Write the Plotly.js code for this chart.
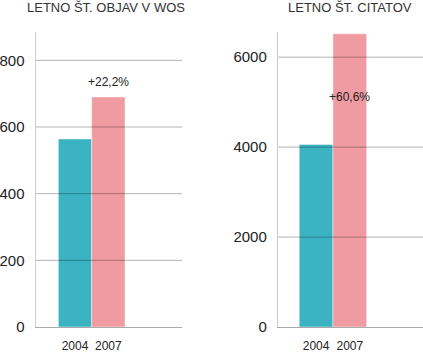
<!DOCTYPE html>
<html>
<head>
<meta charset="utf-8">
<script src="https://cdn.plot.ly/plotly-3.0.1.min.js"></script>
<style>html,body{margin:0;padding:0;background:#fff;}#chart{width:423px;height:353px;}</style>
</head>
<body>
<div id="chart"></div>
<script>
// ---- data ----
var years = ["2004", "2007"];
var objave = [564, 690];
var citati = [4060, 6520];
var titles = ["LETNO ŠT. OBJAV V WOS", "LETNO ŠT. CITATOV"];
var changes = ["+22,2%", "+60,6%"];
var ticksLeft = [0, 200, 400, 600, 800];
var ticksRight = [0, 2000, 4000, 6000];

var colors = ["#3bb3c3", "#f09ba1"];
var font = "Liberation Sans, Arial, sans-serif";
var xpos = years.map(function (d, i) { return i; });

var traces = [
  {type: "bar", x: xpos, y: objave, xaxis: "x", yaxis: "y", width: 1,
   marker: {color: colors, line: {color: "rgba(255,255,255,0.45)", width: 1}},
   hoverinfo: "none", showlegend: false},
  {type: "bar", x: xpos, y: citati, xaxis: "x2", yaxis: "y2", width: 1,
   marker: {color: colors, line: {color: "rgba(255,255,255,0.45)", width: 1}},
   hoverinfo: "none", showlegend: false}
];

function xax(domain, range, anchor) {
  return {domain: domain, range: range, anchor: anchor, type: "linear",
    tickvals: xpos, ticktext: years, showgrid: false, zeroline: false,
    showline: true, linecolor: "#aaaaaa", linewidth: 1,
    ticks: "outside", ticklen: 8, tickcolor: "rgba(0,0,0,0)",
    tickfont: {family: font, size: 12, color: "#222"}, fixedrange: true};
}
function yax(range, tv, anchor) {
  return {range: range, anchor: anchor, domain: [0, 1], tickvals: tv,
    ticktext: tv.map(String), showgrid: false, zeroline: false,
    showline: true, linecolor: "#cccccc", linewidth: 1.5,
    ticks: "outside", ticklen: 7, tickcolor: "rgba(0,0,0,0)",
    tickfont: {family: font, size: 15, color: "#222"}, fixedrange: true};
}

var shapes = [];
ticksLeft.slice(1).forEach(function (v) {
  shapes.push({type: "line", layer: "above", xref: "x domain", yref: "y",
    x0: 0, x1: 1, y0: v, y1: v, line: {color: "rgba(0,0,0,0.3)", width: 1}});
});
ticksRight.slice(1).forEach(function (v) {
  shapes.push({type: "line", layer: "above", xref: "x2 domain", yref: "y2",
    x0: 0, x1: 1, y0: v, y1: v, line: {color: "rgba(0,0,0,0.3)", width: 1}});
});

var titleY = (327 - 8) / (327 - 32);
var annotations = [
  {xref: "paper", yref: "paper", x: 105.5 / 423, y: titleY, xanchor: "center", yanchor: "middle",
   text: titles[0], showarrow: false, font: {family: font, size: 13, color: "#333"}},
  {xref: "paper", yref: "paper", x: 349.7 / 423, y: titleY, xanchor: "center", yanchor: "middle",
   text: titles[1], showarrow: false, font: {family: font, size: 13, color: "#333"}},
  {xref: "x", yref: "y", x: xpos[1], y: objave[1], xanchor: "center", yanchor: "bottom", yshift: 6,
   text: changes[0], showarrow: false, font: {family: font, size: 12, color: "#222"}},
  {xref: "x2", yref: "y2", x: xpos[1], y: citati[1], xanchor: "center", yanchor: "middle", yshift: -63,
   text: changes[1], showarrow: false, font: {family: font, size: 12, color: "#222"}}
];

var layout = {
  width: 423, height: 353,
  margin: {l: 0, r: 0, t: 32, b: 26, pad: 0},
  paper_bgcolor: "#ffffff", plot_bgcolor: "rgba(0,0,0,0)",
  bargap: 0,
  xaxis: xax([36 / 423, 182 / 423], [-1.17, 3.21], "y"),
  yaxis: yax([0, 885], ticksLeft, "x"),
  xaxis2: xax([278.3 / 423, 1], [-1.12, 3.17], "y2"),
  yaxis2: yax([0, 6560], ticksRight, "x2"),
  shapes: shapes,
  annotations: annotations,
  font: {family: font}
};

Plotly.newPlot("chart", traces, layout, {displayModeBar: false, staticPlot: true});
</script>
</body>
</html>
